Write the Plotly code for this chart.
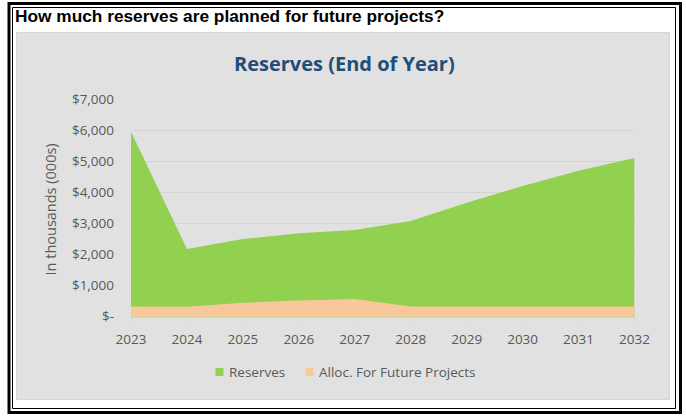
import plotly.graph_objects as go

# Year-end reserves and the share allocated to future projects ($ thousands)
years = [2023, 2024, 2025, 2026, 2027, 2028, 2029, 2030, 2031, 2032]
reserves = [5970, 2185, 2505, 2690, 2800, 3090, 3675, 4215, 4710, 5120]
alloc_future = [330, 320, 450, 520, 570, 330, 330, 330, 330, 330]

y_tickvals = [0, 1000, 2000, 3000, 4000, 5000, 6000, 7000]
y_ticktext = ["$-", "$1,000", "$2,000", "$3,000", "$4,000", "$5,000", "$6,000", "$7,000"]

series_names = ["Reserves", "Alloc. For Future Projects"]

GREEN = "#92D050"
PEACH = "#F8C89A"
AXIS_GRAY = "#595959"
FONT = "Open Sans"

W, H = 686, 416


def px(x):
    return x / W


def py(y):
    return 1 - y / H


fig = go.Figure()

# Filled areas (drawn from zero; the allocation sits on top of reserves)
fig.add_trace(go.Scatter(x=years, y=reserves, mode="none", fill="tozeroy",
                         fillcolor=GREEN, hoverinfo="x+y", name=series_names[0]))
fig.add_trace(go.Scatter(x=years, y=alloc_future, mode="none", fill="tozeroy",
                         fillcolor=PEACH, hoverinfo="x+y", name=series_names[1]))

shapes = [
    # chart panel
    dict(type="rect", xref="paper", yref="paper", x0=px(16.5), x1=px(669.5),
         y0=py(399.5), y1=py(32.5), fillcolor="#E1E1E1",
         line=dict(color="#D6D6D6", width=1), layer="below"),
    # double frame: thick outer, thin inner
    dict(type="rect", xref="paper", yref="paper", x0=px(9), x1=px(680.5),
         y0=py(412.5), y1=py(3.5), line=dict(color="black", width=3),
         fillcolor="rgba(0,0,0,0)"),
    dict(type="rect", xref="paper", yref="paper", x0=px(12.5), x1=px(675.5),
         y0=py(408.5), y1=py(7.5), line=dict(color="black", width=1),
         fillcolor="rgba(0,0,0,0)"),
]

annotations = [
    dict(text="<b>How much reserves are planned for future projects?</b>",
         xref="paper", yref="paper", x=px(13), y=py(16), xanchor="left",
         yanchor="middle", showarrow=False,
         font=dict(family="Liberation Sans, Arial", size=17.3, color="black")),
    dict(text="<b>Reserves (End of Year)</b>", xref="paper", yref="paper",
         x=px(344), y=py(63), xanchor="center", yanchor="middle",
         showarrow=False, font=dict(family=FONT, size=20, color="#1F4E79")),
    dict(text="In thousands (000s)", xref="paper", yref="paper",
         x=px(50), y=py(209.5), xanchor="center", yanchor="middle",
         textangle=-90, showarrow=False,
         font=dict(family=FONT, size=14.5, color=AXIS_GRAY)),
]

# Legend: square key followed by the series name
legend_keys = [(216.5, 228, series_names[0], GREEN),
               (306.5, 318, series_names[1], PEACH)]
for key_x, text_x, label, color in legend_keys:
    shapes.append(dict(type="rect", xref="paper", yref="paper",
                       x0=px(key_x - 1), x1=px(key_x + 7),
                       y0=py(376), y1=py(368), fillcolor=color,
                       line=dict(width=0)))
    annotations.append(dict(text=label, xref="paper", yref="paper",
                            x=px(text_x - 1), y=py(372), xanchor="left",
                            yanchor="middle", showarrow=False,
                            font=dict(family=FONT, size=13.5, color=AXIS_GRAY)))

fig.update_layout(
    template="none",
    width=W, height=H,
    margin=dict(l=0, r=0, t=0, b=0, pad=0, autoexpand=False),
    paper_bgcolor="white",
    plot_bgcolor="rgba(0,0,0,0)",
    font=dict(family=FONT, color=AXIS_GRAY, size=13.5),
    shapes=shapes,
    annotations=annotations,
    showlegend=False,
    xaxis=dict(domain=[px(131), px(634.5)], range=[2023, 2032],
               tickvals=years, ticktext=[str(y) for y in years],
               showgrid=False, zeroline=False, showline=True,
               linecolor="#D3D3D3", linewidth=1, ticks="outside",
               ticklen=4, tickcolor="#D3D3D3", ticklabelstandoff=6,
               tickfont=dict(family=FONT, size=13.5, color=AXIS_GRAY),
               automargin=False, fixedrange=True),
    yaxis=dict(domain=[py(316.7), py(99.7)], range=[0, 7000],
               tickvals=y_tickvals, ticktext=y_ticktext,
               showgrid=True, gridcolor="#D3D3D3", gridwidth=1,
               zeroline=False, showline=False, ticks="",
               ticklabelstandoff=16,
               tickfont=dict(family=FONT, size=13.5, color=AXIS_GRAY),
               automargin=False, fixedrange=True),
)

fig.write_html("out.html")
